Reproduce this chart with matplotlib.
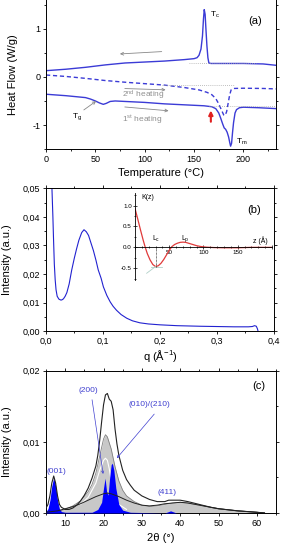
import matplotlib
matplotlib.use("Agg")
import matplotlib.pyplot as plt
from matplotlib.ticker import MultipleLocator, FuncFormatter

plt.rcParams['font.family'] = ['Liberation Sans', 'DejaVu Sans']
plt.rcParams['mathtext.fontset'] = 'custom'
plt.rcParams['mathtext.rm'] = 'Liberation Sans'
plt.rcParams['mathtext.default'] = 'regular'
plt.rcParams['axes.unicode_minus'] = False

# ---------------- (a) DSC ----------------
cool_T = [0, 20, 40, 60, 80, 100, 120, 140, 150, 153, 155, 157, 158.5, 159.5, 160.3,
          161.2, 162, 163, 164, 165, 167, 170, 180, 200, 220, 234]
cool_HF = [0.13, 0.16, 0.20, 0.25, 0.29, 0.31, 0.33, 0.36, 0.38, 0.40, 0.45, 0.58, 0.85,
           1.20, 1.40, 1.30, 1.00, 0.65, 0.40, 0.29, 0.28, 0.28, 0.28, 0.28, 0.27, 0.24]

h2_T = [0, 20, 40, 60, 80, 100, 120, 140, 155, 163, 168, 172, 175, 178, 180, 181.5,
        183, 184.5, 186, 187.5, 190, 200, 220, 234]
h2_HF = [0.04, 0.01, -0.03, -0.075, -0.11, -0.14, -0.17, -0.22, -0.27, -0.32, -0.37,
         -0.45, -0.56, -0.70, -0.79, -0.80, -0.72, -0.55, -0.38, -0.27, -0.24, -0.235,
         -0.24, -0.25]

h1_T = [0, 20, 40, 45, 50, 54, 58, 61, 65, 70, 80, 100, 120, 140, 160, 168, 172, 175,
        177, 179, 180.5, 182, 183.5, 185, 186.3, 187, 188, 189, 190, 191.5, 193, 196,
        200, 215, 234]
h1_HF = [-0.36, -0.39, -0.43, -0.46, -0.50, -0.54, -0.57, -0.55, -0.51, -0.50, -0.51,
         -0.53, -0.56, -0.58, -0.60, -0.62, -0.66, -0.75, -0.86, -0.98, -1.06, -1.09,
         -1.15, -1.25, -1.38, -1.44, -1.38, -1.15, -0.95, -0.75, -0.68, -0.64, -0.63,
         -0.64, -0.66]

# ---------------- (b) SAXS ----------------
q = [0.0105, 0.0115, 0.0125, 0.0135, 0.015, 0.0165, 0.018, 0.020, 0.023, 0.026, 0.028,
     0.031, 0.034, 0.037, 0.041, 0.0455, 0.050, 0.054, 0.058, 0.063, 0.067, 0.071, 0.075,
     0.079, 0.0835, 0.088, 0.092, 0.097, 0.101, 0.107, 0.113, 0.118, 0.124, 0.132, 0.142,
     0.152, 0.165, 0.18, 0.2, 0.23, 0.27, 0.3, 0.33, 0.355, 0.362, 0.366, 0.369, 0.371,
     0.372]
I_q = [0.052, 0.046, 0.040, 0.033, 0.0235, 0.018, 0.0145, 0.0122, 0.0112, 0.0109, 0.0109,
       0.0113, 0.0122, 0.0135, 0.0165, 0.0214, 0.0255, 0.0288, 0.0318, 0.0345, 0.0355,
       0.0348, 0.0335, 0.0310, 0.0282, 0.0248, 0.0214, 0.0185, 0.0155, 0.0125, 0.0102,
       0.0087, 0.0073, 0.0058, 0.0045, 0.0036, 0.0029, 0.0025, 0.0022, 0.0019, 0.0017,
       0.0016, 0.0015, 0.0015, 0.0016, 0.0019, 0.0017, 0.0008, 0.0]

z = [0, 4, 8, 12, 15, 18, 22, 26, 30, 34, 38, 42, 46, 50, 54, 58, 62, 66, 70, 74, 78,
     84, 90, 96, 104, 115, 130, 150, 170, 200]
K = [0.93, 0.68, 0.42, 0.17, 0.0, -0.15, -0.30, -0.41, -0.46, -0.44, -0.38, -0.29, -0.18,
     -0.07, 0.02, 0.07, 0.10, 0.12, 0.125, 0.12, 0.10, 0.07, 0.04, 0.02, 0.005, -0.005,
     -0.01, -0.01, 0.0, 0.0]
Lc = 30

# ---------------- (c) WAXS ----------------
tt_tot = [5, 5.5, 6, 6.5, 7, 7.5, 8, 8.5, 9, 10, 11, 12, 13, 14, 15, 16, 17, 18, 18.5, 19,
          19.5, 20, 20.5, 21, 21.5, 22, 22.5, 23, 23.5, 24, 25, 26, 27, 28, 30, 32, 34, 36,
          37, 38, 40, 42, 45, 48, 50, 55, 60, 62]
I_tot = [0.0007, 0.0012, 0.0024, 0.0042, 0.0052, 0.0042, 0.0024, 0.0012, 0.0008, 0.0005,
         0.0005, 0.0007, 0.0011, 0.0017, 0.0025, 0.0035, 0.0049, 0.0066, 0.0081, 0.0102,
         0.0128, 0.0152, 0.0166, 0.0168, 0.0160, 0.0157, 0.0145, 0.0118, 0.0097, 0.0081,
         0.0060, 0.0047, 0.0039, 0.0032, 0.0024, 0.0019, 0.0016, 0.0016, 0.0018, 0.0018,
         0.0018, 0.0016, 0.0012, 0.0008, 0.0006, 0.0003, 0.0001, 0.0]

tt_meso = [5, 8, 10, 12, 14, 16, 17, 18, 19, 20, 20.5, 21, 22, 23, 24, 25, 26, 28, 30, 32,
           34, 36, 38, 40, 42, 45, 48, 50, 55, 60, 62]
I_meso = [0.0, 0.0002, 0.0005, 0.0010, 0.0017, 0.0030, 0.0040, 0.0056, 0.0080, 0.0104,
          0.0110, 0.0107, 0.0090, 0.0065, 0.0045, 0.0032, 0.0024, 0.0016, 0.0011, 0.0009,
          0.0010, 0.0012, 0.0014, 0.0015, 0.0014, 0.0011, 0.0008, 0.0006, 0.0003, 0.0001,
          0.0]

tt_white = [14, 16, 18, 19, 20, 20.5, 21, 21.5, 22, 23, 24, 26]
I_white = [0.0012, 0.0022, 0.0042, 0.0060, 0.0074, 0.0077, 0.0074, 0.0062, 0.0045,
           0.0025, 0.0012, 0.0005]

tt_amor = [5, 8, 10, 12, 14, 16, 18, 20, 21, 22, 24, 26, 28, 30, 32, 34, 36, 38, 40, 42,
           45, 50, 55, 60, 62]
I_amor = [0.0001, 0.0003, 0.0006, 0.0009, 0.0013, 0.0018, 0.0023, 0.0027, 0.0028, 0.0027,
          0.0023, 0.0018, 0.0014, 0.0011, 0.0010, 0.0011, 0.0013, 0.0014, 0.0015, 0.0014,
          0.0011, 0.0006, 0.0003, 0.0001, 0.0]

tt_cr = [5, 5.5, 6, 6.5, 7, 7.5, 8, 8.5, 9, 10, 17, 18.5, 19.5, 20, 20.4, 20.8, 21.2,
         21.6, 22.0, 22.3, 22.7, 23.2, 24, 25, 27, 36, 37, 37.5, 38, 39, 62]
I_cr = [0.0002, 0.0006, 0.0018, 0.0038, 0.0050, 0.0038, 0.0018, 0.0006, 0.0002, 0.0001,
        0.0001, 0.0005, 0.0015, 0.0035, 0.0049, 0.0030, 0.0025, 0.0050, 0.0068, 0.0070,
        0.0060, 0.0035, 0.0012, 0.0004, 0.0001, 0.0, 0.0002, 0.0003, 0.0002, 0.0, 0.0]

BLUE_A = '#3b3bd6'
BLUE_B = '#2222d0'
LBL = 8
TCK = 6.5
ANN = 6


def style(ax, xmaj, xmin, ymaj, ymin):
    ax.xaxis.set_major_locator(MultipleLocator(xmaj))
    ax.xaxis.set_minor_locator(MultipleLocator(xmin))
    ax.yaxis.set_major_locator(MultipleLocator(ymaj))
    ax.yaxis.set_minor_locator(MultipleLocator(ymin))
    ax.tick_params(which='both', direction='out', top=True, right=True,
                   labelsize=TCK, width=0.6, pad=1.5)
    ax.tick_params(which='major', length=2.5)
    ax.tick_params(which='minor', length=1.5)
    for s in ax.spines.values():
        s.set_linewidth(0.7)


def comma(nd):
    return FuncFormatter(lambda v, p: f"{v:.{nd}f}".replace('.', ','))


fig = plt.figure(figsize=(2.86, 5.5), dpi=100)

# ---- panel (a)
ax = fig.add_axes([0.161, 0.729, 0.804, 0.271])
ax.plot(cool_T, cool_HF, color=BLUE_A, lw=1.0)
ax.plot(h2_T, h2_HF, color=BLUE_A, lw=1.0, ls=(0, (3, 2)))
ax.plot(h1_T, h1_HF, color=BLUE_A, lw=1.0)
dot = dict(color='#aaaaaa', lw=0.6, ls=(0, (1, 1.5)))
ax.plot([145, 213], [0.28, 0.28], **dot)
ax.plot([118, 190], [-0.17, -0.17], **dot)
ax.plot([165, 232], [-0.60, -0.60], **dot)
gray_arrow = dict(arrowstyle='->', color='#888888', lw=0.6, mutation_scale=5)
ax.annotate('', xy=(72, 0.475), xytext=(120, 0.53), arrowprops=gray_arrow)
ax.annotate('', xy=(124, -0.27), xytext=(77, -0.24), arrowprops=gray_arrow)
ax.annotate('', xy=(127, -0.71), xytext=(77, -0.62), arrowprops=gray_arrow)
ax.annotate('', xy=(53, -0.47), xytext=(36, -0.72), arrowprops=gray_arrow)
ax.annotate('', xy=(167, -0.64), xytext=(167, -0.99),
            arrowprops=dict(arrowstyle='-|>', color='#e02020', lw=1.5, mutation_scale=6))
ax.text(77, -0.38, '2$^{nd}$ heating', color='#909090', fontsize=ANN, va='center')
ax.text(77, -0.89, '1$^{st}$ heating', color='#909090', fontsize=ANN, va='center')
ax.text(166, 1.28, 'T$_c$', fontsize=ANN, va='center')
ax.text(192, -1.36, 'T$_m$', fontsize=ANN, va='center')
ax.text(26, -0.83, 'T$_g$', fontsize=ANN, va='center')
ax.text(0.91, 0.86, '(a)', transform=ax.transAxes, fontsize=LBL, ha='center', va='center')
ax.set_xlim(0, 233)
ax.set_ylim(-1.5, 1.6)
style(ax, 50, 25, 1, 0.5)
ax.spines['top'].set_visible(False)
ax.tick_params(which='both', top=False)
ax.set_xlabel('Temperature (°C)', fontsize=LBL, labelpad=3)
ax.set_ylabel('Heat Flow (W/g)', fontsize=LBL)
ax.yaxis.set_label_coords(-0.12, 0.5)

# ---- panel (b)
ax = fig.add_axes([0.160, 0.398, 0.798, 0.2596])
ax.plot(q, I_q, color=BLUE_B, lw=0.8)
ax.set_xlim(0, 0.4)
ax.set_ylim(0, 0.05)
style(ax, 0.1, 0.05, 0.01, 0.005)
ax.xaxis.set_major_formatter(comma(1))
ax.yaxis.set_major_formatter(comma(2))
ax.set_xlabel('q (Å$^{-1}$)', fontsize=LBL, labelpad=2)
ax.set_ylabel('Intensity (a.u.)', fontsize=LBL)
ax.yaxis.set_label_coords(-0.15, 0.5)
ax.text(0.365, 0.0423, '(b)', fontsize=LBL, ha='center', va='center')

ins = fig.add_axes([0.472, 0.491, 0.479, 0.158])
ins.patch.set_alpha(0)
ins.plot(z, K, color='#e03a3a', lw=0.9)
ins.plot([17, 30], [-0.62, -0.46], color='#b0d0c8', lw=0.6)
ins.plot([24, 40], [-0.46, -0.46], color='#b0d0c8', lw=0.6)
ins.plot([Lc, Lc], [0, -0.46], color='black', lw=0.5, ls=(0, (1, 1)))
ins.set_xlim(0, 200)
ins.set_ylim(-0.78, 1.3)
for s in ['top', 'right']:
    ins.spines[s].set_visible(False)
ins.spines['bottom'].set_position(('data', 0))
ins.spines['left'].set_position(('data', 0))
for s in ['bottom', 'left']:
    ins.spines[s].set_linewidth(0.6)
ins.xaxis.set_major_locator(MultipleLocator(50))
ins.xaxis.set_minor_locator(MultipleLocator(10))
ins.yaxis.set_major_locator(MultipleLocator(0.5))
ins.yaxis.set_minor_locator(MultipleLocator(0.25))
ins.tick_params(which='both', direction='inout', labelsize=4.5, width=0.5, pad=1)
ins.tick_params(which='major', length=2.5)
ins.tick_params(which='minor', length=1.5)
ins.xaxis.set_major_formatter(FuncFormatter(lambda v, p: '' if v <= 0 or v > 160 else f"{v:g}"))
ins.yaxis.set_major_formatter(FuncFormatter(lambda v, p: f"{v:.1f}"))
ins.text(10, 1.2, 'K(z)', fontsize=5, va='center')
ins.text(172, 0.16, 'z (Å)', fontsize=5, va='center')
ins.text(25, 0.2, 'L$_c$', fontsize=5, va='center')
ins.text(67, 0.2, 'L$_p$', fontsize=5, va='center')

# ---- panel (c)
ax = fig.add_axes([0.161, 0.0673, 0.804, 0.2587])
ax.fill_between(tt_meso, I_meso, color='#c8c8c8', lw=0, zorder=1)
ax.plot(tt_meso, I_meso, color='#808080', lw=0.6, zorder=2)
ax.plot(tt_white, I_white, color='white', lw=0.8, zorder=2)
ax.fill_between(tt_cr, I_cr, color='#0000ff', lw=0, zorder=3)
ax.plot(tt_amor, I_amor, color='#222222', lw=0.7, zorder=4)
ax.plot(tt_tot, I_tot, color='#222222', lw=0.8, zorder=4)
btxt = '#4040d0'
barrow = dict(arrowstyle='->', color=btxt, lw=0.5, mutation_scale=4)
ax.annotate('', xy=(20.0, 0.0051), xytext=(16.9, 0.0163), arrowprops=barrow, zorder=5)
ax.annotate('', xy=(23.0, 0.0074), xytext=(33.7, 0.0142), arrowprops=barrow, zorder=5)
ax.text(7.8, 0.0059, '(001)', color=btxt, fontsize=ANN, ha='center', va='center')
ax.text(16.0, 0.0172, '(200)', color=btxt, fontsize=ANN, ha='center', va='center')
ax.text(32.0, 0.0152, '(010)/(210)', color=btxt, fontsize=ANN, ha='center', va='center')
ax.text(36.5, 0.0029, '(411)', color=btxt, fontsize=ANN, ha='center', va='center')
ax.text(60.4, 0.0178, '(c)', fontsize=LBL, ha='center', va='center')
ax.set_xlim(5, 65)
ax.set_ylim(0, 0.02)
style(ax, 10, 5, 0.01, 0.005)
ax.yaxis.set_major_formatter(comma(2))
ax.set_xlabel('2θ (°)', fontsize=LBL, labelpad=4)
ax.set_ylabel('Intensity (a.u.)', fontsize=LBL)
ax.yaxis.set_label_coords(-0.15, 0.5)

fig.savefig('out.png', dpi=100)
